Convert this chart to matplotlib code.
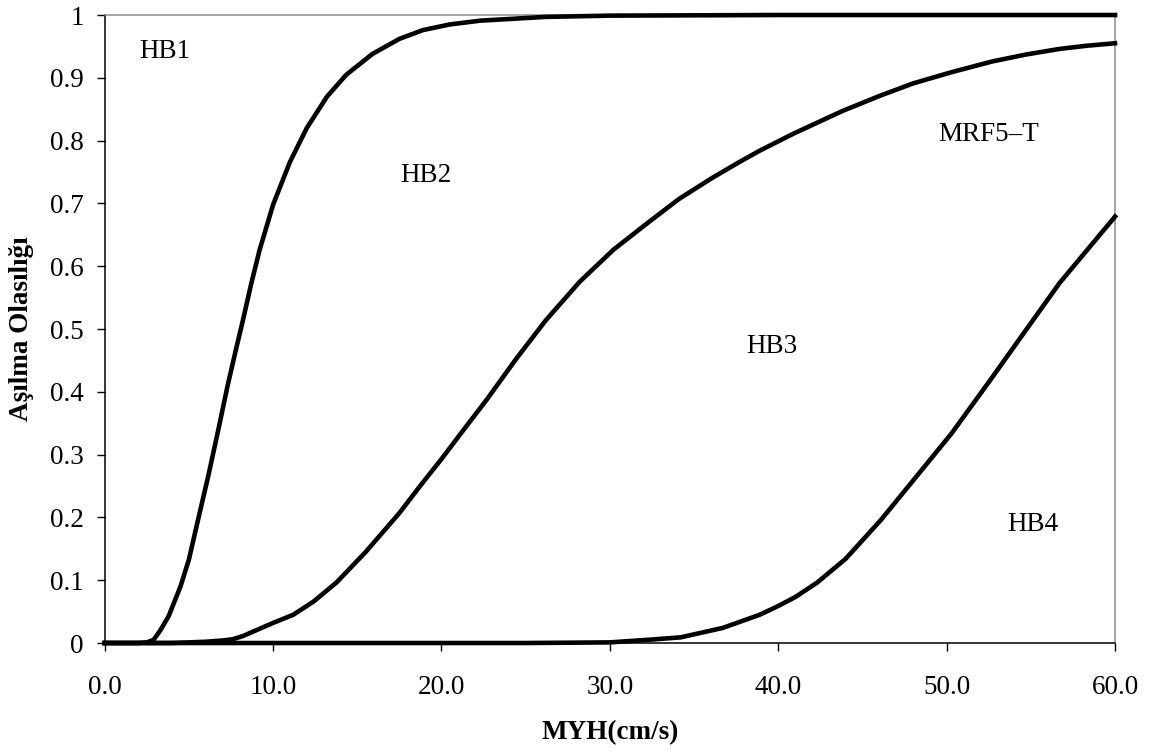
import matplotlib
matplotlib.use("Agg")
import matplotlib.pyplot as plt

plt.rcParams["font.family"] = ["Liberation Serif", "DejaVu Serif"]

# fragility curves (MYH in cm/s, exceedance probability)
x_ls1 = [0, 2.0, 2.5, 2.9, 3.3, 3.8, 4.5, 5.0, 5.55, 6.15, 6.75, 7.3, 7.8, 8.2, 8.7,
         9.2, 10.0, 11.0, 12.0, 13.2, 14.35, 15.9, 17.5, 18.9, 20.5, 22.3, 26.2, 30.0, 40.0, 60.0]
p_ls1 = [0, 0, 0.001, 0.005, 0.02, 0.043, 0.09, 0.133, 0.197, 0.266, 0.34, 0.41, 0.468, 0.513, 0.572,
         0.626, 0.698, 0.766, 0.82, 0.87, 0.905, 0.938, 0.962, 0.976, 0.985, 0.991, 0.997, 0.999, 1.0, 1.0]

x_ls2 = [0, 4.0, 5.0, 6.0, 7.0, 7.6, 8.2, 8.8, 9.4, 10.0, 11.2, 12.4, 13.75, 15.5, 17.5, 18.7,
         20.0, 21.3, 22.7, 24.45, 26.2, 28.2, 30.2, 32.2, 34.1, 36.1, 37.7, 38.9, 40.9, 43.8,
         46.0, 48.0, 50.3, 52.7, 54.7, 56.7, 58.3, 60.0]
p_ls2 = [0, 0, 0.001, 0.002, 0.004, 0.006, 0.011, 0.018, 0.025, 0.032, 0.045, 0.066, 0.096, 0.145, 0.207, 0.249,
         0.293, 0.339, 0.388, 0.453, 0.514, 0.575, 0.626, 0.668, 0.707, 0.741, 0.766, 0.784, 0.811, 0.847,
         0.871, 0.891, 0.909, 0.926, 0.937, 0.946, 0.951, 0.955]

x_ls3 = [0, 25.0, 30.0, 32.2, 34.2, 36.7, 38.9, 40.0, 41.0, 42.3, 44.0, 46.1, 48.2, 50.3, 52.6,
         54.3, 56.7, 60.0]
p_ls3 = [0, 0, 0.001, 0.005, 0.009, 0.024, 0.045, 0.059, 0.073, 0.096, 0.134, 0.196, 0.265, 0.334, 0.419,
         0.483, 0.573, 0.679]

region_labels = ["HB1", "HB2", "HB3", "HB4", "MRF5\u2013T"]
region_x = [3.6, 19.1, 39.6, 55.1, 52.5]
region_y = [0.942, 0.745, 0.472, 0.188, 0.81]

x_ticks = [0, 10, 20, 30, 40, 50, 60]
y_ticks = [0, 0.1, 0.2, 0.3, 0.4, 0.5, 0.6, 0.7, 0.8, 0.9, 1.0]
y_ticklabels = ["0", "0.1", "0.2", "0.3", "0.4", "0.5", "0.6", "0.7", "0.8", "0.9", "1"]

FS = 19.5
fig = plt.figure(figsize=(11.52, 7.54), dpi=100)
ax = fig.add_axes([0.0909, 0.1472, 0.877, 0.8329])

for xs, ps in [(x_ls1, p_ls1), (x_ls2, p_ls2), (x_ls3, p_ls3)]:
    ax.plot(xs, ps, color="black", lw=3.3, clip_on=False, solid_joinstyle="round", zorder=3)

for t, x, y in zip(region_labels, region_x, region_y):
    ax.text(x, y, t, fontsize=FS, ha="center", va="center", color="black")

ax.set_xlim(0, 60)
ax.set_ylim(0, 1)
ax.set_xticks(x_ticks)
ax.set_xticklabels([f"{v:.1f}" for v in x_ticks])
ax.set_yticks(y_ticks)
ax.set_yticklabels(y_ticklabels)
ax.tick_params(axis="both", direction="out", length=6, width=1, labelsize=FS, color="black")
ax.tick_params(axis="x", pad=17)
ax.tick_params(axis="y", pad=9)

for s in ["left", "bottom"]:
    ax.spines[s].set_color("black")
    ax.spines[s].set_linewidth(1.1)
for s in ["top", "right"]:
    ax.spines[s].set_color("#8c8c8c")
    ax.spines[s].set_linewidth(1.1)

ax.set_xlabel("MYH(cm/s)", fontsize=FS, fontweight="bold", va="center")
ax.xaxis.set_label_coords(0.5, -0.143)
ax.set_ylabel("A\u015f\u0131lma Olas\u0131l\u0131\u011f\u0131", fontsize=FS, fontweight="bold", va="center")
ax.yaxis.set_label_coords(-0.082, 0.5)

fig.savefig("out.png", dpi=100, facecolor="white")
